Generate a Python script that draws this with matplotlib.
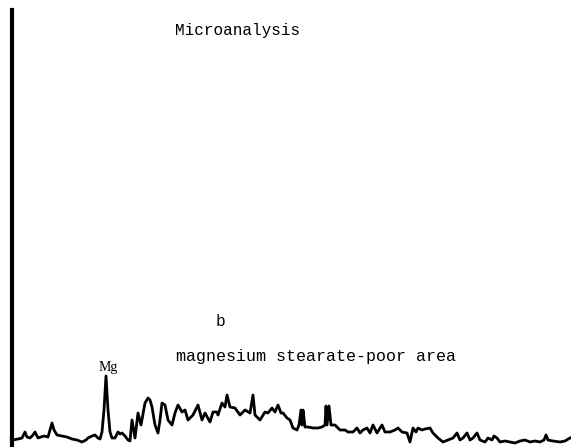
"""Microanalysis spectrum, magnesium stearate-poor area (panel b)."""

import matplotlib
matplotlib.use('agg')
from matplotlib import pyplot

FIGURE_RESOLUTION_DPI = 100
MONO_FONT = ['Liberation Mono', 'DejaVu Sans Mono']

# channel (energy axis, arbitrary units) and counts
CHANNELS = [
    13, 18, 22, 25, 27, 30, 33, 35, 38, 41, 44, 48, 50, 52, 54, 57, 62, 67,
    72, 77, 82, 86, 88, 92, 95, 98, 100, 102, 104, 106, 108, 110, 112, 115,
    118, 120, 122, 125, 128, 130,
    132, 135, 138, 141, 145, 148, 150, 152, 155, 158, 160, 162, 165, 168,
    172, 175, 178, 182, 185, 188, 193, 198, 202, 205, 210, 213, 217, 218,
    222, 225, 227, 230, 235, 240, 245, 250, 253, 255, 260, 265,
    268, 272, 275, 278, 281, 283, 287, 290, 293, 297, 299, 301, 302, 303,
    305, 308, 313, 318, 322, 325, 326, 327, 329, 331, 335, 340, 345, 348,
    353, 357, 360, 363, 367, 370, 373, 377, 382, 385, 390, 395, 398,
    402, 407, 410, 413, 416, 418, 422, 425, 430, 433, 438, 443, 448, 453,
    457, 460, 463, 467, 470, 473, 477, 480, 485, 488, 492, 494, 497, 500,
    505, 510, 515, 520, 525, 530, 535, 540, 544, 546, 548, 553, 560, 565, 570
]
COUNTS = [
    7, 8, 9, 15, 10, 9, 12, 15, 9, 10, 11, 10, 17, 24, 17, 12, 11, 10,
    8, 7, 5, 7, 9, 11, 12, 9, 8, 15, 37, 71, 37, 15, 9, 9,
    15, 13, 14, 11, 7, 6,
    27, 9, 34, 22, 44, 49, 47, 40, 22, 14, 27, 44, 42, 27,
    22, 34, 42, 35, 37, 27, 32, 42, 27, 34, 25, 35, 35, 32,
    44, 40, 52, 40, 39, 32, 37, 34, 52, 32, 27, 35,
    34, 39, 35, 42, 34, 34, 29, 27, 19, 17, 22, 37, 22, 37,
    20, 20, 19, 19, 20, 22, 41, 22, 41, 22, 22, 17, 17, 15,
    15, 19, 14, 17, 19, 14, 22, 14, 22, 15, 15, 17, 19,
    15, 14, 5, 19, 15, 19, 17, 18, 19, 14, 9, 5, 7, 9,
    14, 7, 9, 14, 7, 9, 14, 7, 5, 9, 7, 11, 9, 5,
    6, 5, 4, 6, 7, 5, 6, 5, 7, 12, 7, 6, 5, 6, 9
]

MG_CHANNEL = 106
TITLE_STRING = 'Microanalysis'
PANEL_STRING = 'b'
AREA_STRING = 'magnesium stearate-poor area'


def _run():
    figure_object = pyplot.figure(figsize=(5.71, 4.47),
                                  dpi=FIGURE_RESOLUTION_DPI)
    axes_object = figure_object.add_axes([0, 0, 1, 1])

    axes_object.plot(CHANNELS, COUNTS, color='black', linewidth=2.0,
                     solid_joinstyle='round')

    axes_object.set_xlim(0, 571)
    axes_object.set_ylim(0, 447)

    # only the thick left axis line is drawn
    for this_side in ['top', 'right', 'bottom']:
        axes_object.spines[this_side].set_visible(False)
    axes_object.spines['left'].set_position(('data', 12))
    axes_object.spines['left'].set_bounds(2, 437)
    axes_object.spines['left'].set_linewidth(3.0)
    axes_object.set_xticks([])
    axes_object.set_yticks([])
    axes_object.patch.set_visible(False)

    axes_object.text(238, 417, TITLE_STRING, ha='center', va='center',
                     family=MONO_FONT, fontsize=11.5)
    axes_object.text(220, 126, PANEL_STRING, ha='center', va='center',
                     family=MONO_FONT, fontsize=11.5)
    axes_object.text(316, 91, AREA_STRING, ha='center', va='center',
                     family=MONO_FONT, fontsize=12)
    axes_object.text(MG_CHANNEL + 2, max(COUNTS) + 9, 'Mg', ha='center',
                     va='center', family=['Liberation Serif'], fontsize=10)

    figure_object.savefig('out.png', dpi=FIGURE_RESOLUTION_DPI)
    pyplot.close(figure_object)


if __name__ == '__main__':
    _run()
